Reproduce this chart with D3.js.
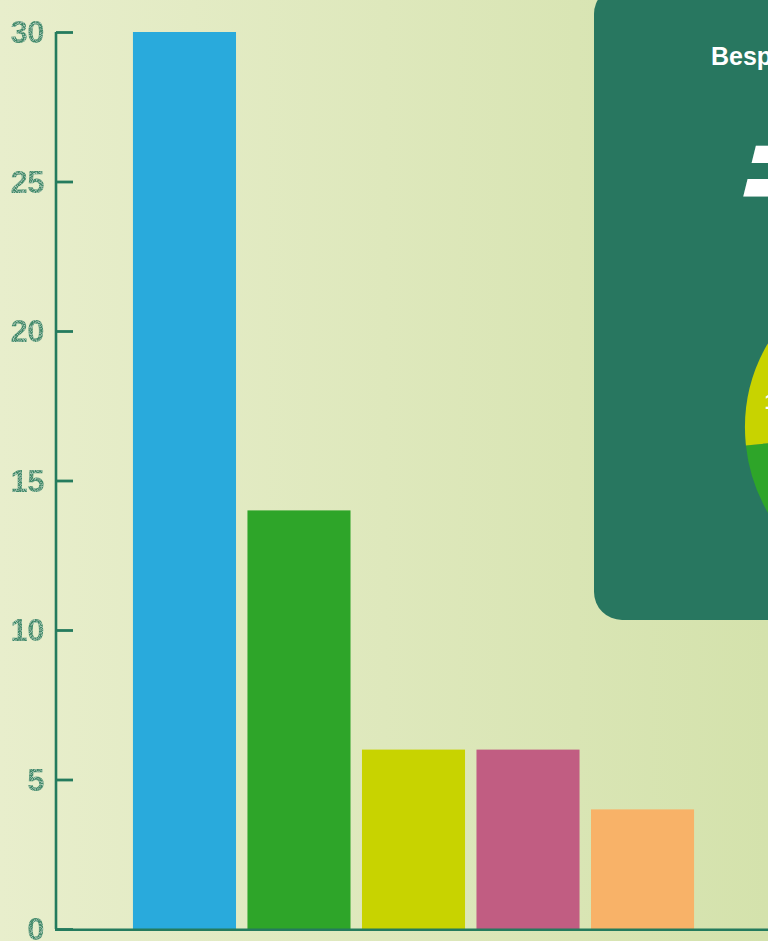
<!DOCTYPE html>
<html><head><meta charset="utf-8">
<script src="https://cdn.jsdelivr.net/npm/d3@7"></script>
<style>html,body{margin:0;padding:0;overflow:hidden;background:#e2e9c0}</style>
</head><body>
<script>
const categories = ["A","B","C","D","E"];
const values = [30, 14, 6, 6, 4];
const colors = ["#29aadc","#2ea529","#c8d300","#c15d82","#f8b268"];
const yTicks = [0,5,10,15,20,25,30];
const panelTitle = "Besparing per jaar";
const panelBig = "=";

const W = 768, H = 941;
const svg = d3.select("body").append("svg").attr("width", W).attr("height", H);
const defs = svg.append("defs");
const grad = defs.append("linearGradient").attr("id","bg").attr("x1","0").attr("x2","1").attr("y1","0").attr("y2","0");
grad.append("stop").attr("offset","0").attr("stop-color","#e8eecc");
grad.append("stop").attr("offset","1").attr("stop-color","#d4e2ac");
svg.append("rect").attr("width",W).attr("height",H).attr("fill","url(#bg)");

// speckle texture for tick labels
const f = defs.append("filter").attr("id","speckle").attr("x","-10%").attr("y","-10%").attr("width","120%").attr("height","120%");
f.append("feTurbulence").attr("type","fractalNoise").attr("baseFrequency","1.1").attr("numOctaves","1").attr("seed","3").attr("result","noise");
f.append("feColorMatrix").attr("in","noise").attr("type","matrix")
 .attr("values","0 0 0 0 0.60  0 0 0 0 0.80  0 0 0 0 0.68  0 0 0 2.2 -0.95").attr("result","spots");
f.append("feComposite").attr("in","spots").attr("in2","SourceGraphic").attr("operator","in").attr("result","clip");
f.append("feMerge").selectAll("feMergeNode").data(["SourceGraphic","clip"]).join("feMergeNode").attr("in",d=>d);

const x0 = 56, yBottom = 929, yTop = 32;
const x = d3.scaleBand().domain(categories).range([x0, 771]).paddingInner(0.1).paddingOuter(0.672);
const y = d3.scaleLinear().domain([0,30]).range([yBottom, yTop]);

svg.append("g").selectAll("rect").data(values).join("rect")
  .attr("x",(d,i)=>x(categories[i]))
  .attr("y",d=>y(d))
  .attr("width",x.bandwidth())
  .attr("height",d=>yBottom-y(d))
  .attr("fill",(d,i)=>colors[i]);

// y axis
const yAxis = d3.axisRight(y).tickValues(yTicks).tickSize(17).tickFormat("");
const gy = svg.append("g").attr("transform",`translate(${x0},0)`).call(yAxis);
gy.select(".domain").attr("stroke","#247b5d").attr("stroke-width",2.6).attr("d",`M0,${yTop}V${yBottom}`);
gy.selectAll(".tick line").attr("stroke","#247b5d").attr("stroke-width",2.8);
svg.append("g").selectAll("text").data(yTicks).join("text")
  .attr("x",44).attr("y",d=>y(d)).attr("dy","0.36em")
  .attr("text-anchor","end")
  .attr("font-family","Liberation Sans, Arial, sans-serif").attr("font-weight","bold").attr("font-size",31)
  .attr("fill","#3f8a69").attr("filter","url(#speckle)")
  .attr("letter-spacing","-0.5")
  .text(d=>d);

// x axis baseline
svg.append("line").attr("x1",x0-1).attr("x2",W).attr("y1",yBottom+0.8).attr("y2",yBottom+0.8)
  .attr("stroke","#247b5d").attr("stroke-width",2.6);

// panel
const panel = svg.append("g");
panel.append("rect").attr("x",594).attr("y",-14).attr("width",320).attr("height",634).attr("rx",28)
  .attr("fill","#287760");
panel.append("text").attr("x",711).attr("y",65)
  .attr("font-family","Liberation Sans, Arial, sans-serif").attr("font-weight","bold").attr("font-size",25)
  .attr("fill","#ffffff").text(panelTitle);
panel.append("text").attr("transform","translate(722,218) skewX(-14)")
  .attr("font-family","DejaVu Sans, sans-serif").attr("font-weight","bold").attr("font-size",150)
  .attr("fill","#ffffff").text(panelBig);

const cx = 913, cy = 428, r = 168;
const pie = d3.pie().sort(null)(values);
const arc = d3.arc().innerRadius(0).outerRadius(r);
const labelArc = d3.arc().innerRadius(r*0.77).outerRadius(r*0.77);
const total = d3.sum(values);
const pg = panel.append("g").attr("transform",`translate(${cx},${cy})`);
pg.selectAll("path").data(pie).join("path").attr("d",arc).attr("fill",(d,i)=>colors[i]);
pg.selectAll("text").data(pie).join("text")
  .attr("transform",d=>`translate(${labelArc.centroid(d)})`)
  .attr("text-anchor","middle").attr("dy","0.35em")
  .attr("font-family","Liberation Sans, Arial, sans-serif").attr("font-weight","bold").attr("font-size",22)
  .attr("fill","#ffffff")
  .text(d=>Math.round(d.data/total*100)+"%");
</script>
</body></html>
